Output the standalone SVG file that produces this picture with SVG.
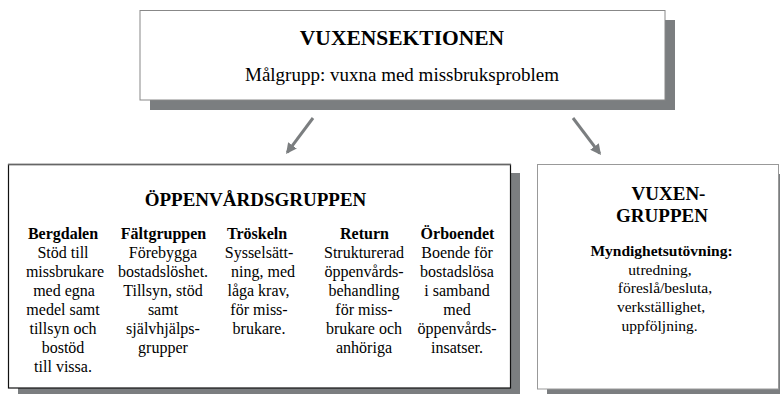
<svg xmlns="http://www.w3.org/2000/svg" width="780" height="394" viewBox="0 0 780 394" font-family="'Liberation Serif', 'Times New Roman', serif">
<style>
text,tspan{font-family:"Liberation Serif","Times New Roman",serif;fill:#000;text-anchor:middle}
.h{font-weight:bold;font-size:19px}
.hb{font-weight:bold;font-size:16px}
.t{font-size:16px}
.shadow{fill:#7b7e80}
.conn{stroke:#7b7e80;stroke-width:3;fill:none}
</style>
<defs>
<marker id="ah" viewBox="0 0 10 10" refX="8" refY="5" markerWidth="3.6" markerHeight="3.6" orient="auto" markerUnits="strokeWidth">
<path d="M0,0 L10,5 L0,10 Z" fill="#7b7e80"/>
</marker>
</defs>
<rect width="780" height="394" fill="#fff"/>
<g id="vuxensektionen">
<rect class="shadow" x="150" y="20" width="525" height="90"/>
<rect x="140" y="10.5" width="525" height="89.5" fill="#fff" stroke="#888" stroke-width="1"/>
<text class="h" x="402" y="45" style="font-size:21.5px">VUXENSEKTIONEN</text>
<text x="402" y="81" style="font-size:19px">Målgrupp: vuxna med missbruksproblem</text>
</g>
<g id="connectors">
<line class="conn" x1="313" y1="118" x2="287.3" y2="152.3" marker-end="url(#ah)"/>
<line class="conn" x1="573" y1="118" x2="599.7" y2="153.3" marker-end="url(#ah)"/>
</g>
<g id="oppenvardsgruppen">
<rect class="shadow" x="18" y="173" width="502" height="225"/>
<rect x="8.5" y="164.5" width="502" height="223.5" fill="#fff" stroke="#111" stroke-width="1.2"/>
<line x1="8" y1="164.5" x2="511" y2="164.5" stroke="#666" stroke-width="1.5"/>
<text class="h" x="255.5" y="206">ÖPPENVÅRDSGRUPPEN</text>
<text x="64" y="239"><tspan class="hb" x="63">Bergdalen</tspan><tspan class="t" x="63" dy="19">Stöd till</tspan><tspan class="t" x="65" dy="19">missbrukare</tspan><tspan class="t" x="64" dy="19">med egna</tspan><tspan class="t" x="63" dy="19">medel samt</tspan><tspan class="t" x="63" dy="19">tillsyn och</tspan><tspan class="t" x="63" dy="19">bostöd</tspan><tspan class="t" x="63" dy="19">till vissa.</tspan></text>
<text x="163" y="239"><tspan class="hb" x="163.5">Fältgruppen</tspan><tspan class="t" x="163" dy="19">Förebygga</tspan><tspan class="t" x="163" dy="19">bostadslöshet.</tspan><tspan class="t" x="163" dy="19">Tillsyn, stöd</tspan><tspan class="t" x="163" dy="19">samt</tspan><tspan class="t" x="163" dy="19">självhjälps-</tspan><tspan class="t" x="163" dy="19">grupper</tspan></text>
<text x="259" y="239"><tspan class="hb" x="257">Tröskeln</tspan><tspan class="t" x="259" dy="19">Sysselsätt-</tspan><tspan class="t" x="263" dy="19">ning, med</tspan><tspan class="t" x="258.5" dy="19">låga krav,</tspan><tspan class="t" x="259" dy="19">för miss-</tspan><tspan class="t" x="259" dy="19">brukare.</tspan></text>
<text x="364" y="239"><tspan class="hb" x="364.5">Return</tspan><tspan class="t" x="364" dy="19">Strukturerad</tspan><tspan class="t" x="364" dy="19">öppenvårds-</tspan><tspan class="t" x="364" dy="19">behandling</tspan><tspan class="t" x="364" dy="19">för miss-</tspan><tspan class="t" x="364" dy="19">brukare och</tspan><tspan class="t" x="364" dy="19">anhöriga</tspan></text>
<text x="457" y="239"><tspan class="hb" x="457.5">Örboendet</tspan><tspan class="t" x="457" dy="19">Boende för</tspan><tspan class="t" x="457" dy="19">bostadslösa</tspan><tspan class="t" x="457" dy="19">i samband</tspan><tspan class="t" x="457" dy="19">med</tspan><tspan class="t" x="457" dy="19">öppenvårds-</tspan><tspan class="t" x="457" dy="19">insatser.</tspan></text>
</g>
<g id="vuxengruppen">
<rect class="shadow" x="547" y="174" width="233" height="225"/>
<rect x="537.5" y="164.5" width="241" height="224.5" fill="#fff" stroke="#999" stroke-width="1"/>
<text class="h" x="668.5" y="200">VUXEN-</text>
<text class="h" x="662" y="222">GRUPPEN</text>
<text x="661" y="256"><tspan class="hb" x="661.5" style="font-size:15.5px">Myndighetsutövning:</tspan><tspan class="t" x="660" dy="18.7" style="font-size:15.5px">utredning,</tspan><tspan class="t" x="665" dy="18.7" style="font-size:15.5px">föreslå/besluta,</tspan><tspan class="t" x="661" dy="18.7" style="font-size:15.5px">verkställighet,</tspan><tspan class="t" x="659.5" dy="18.7" style="font-size:15.5px">uppföljning.</tspan></text>
</g>
</svg>
